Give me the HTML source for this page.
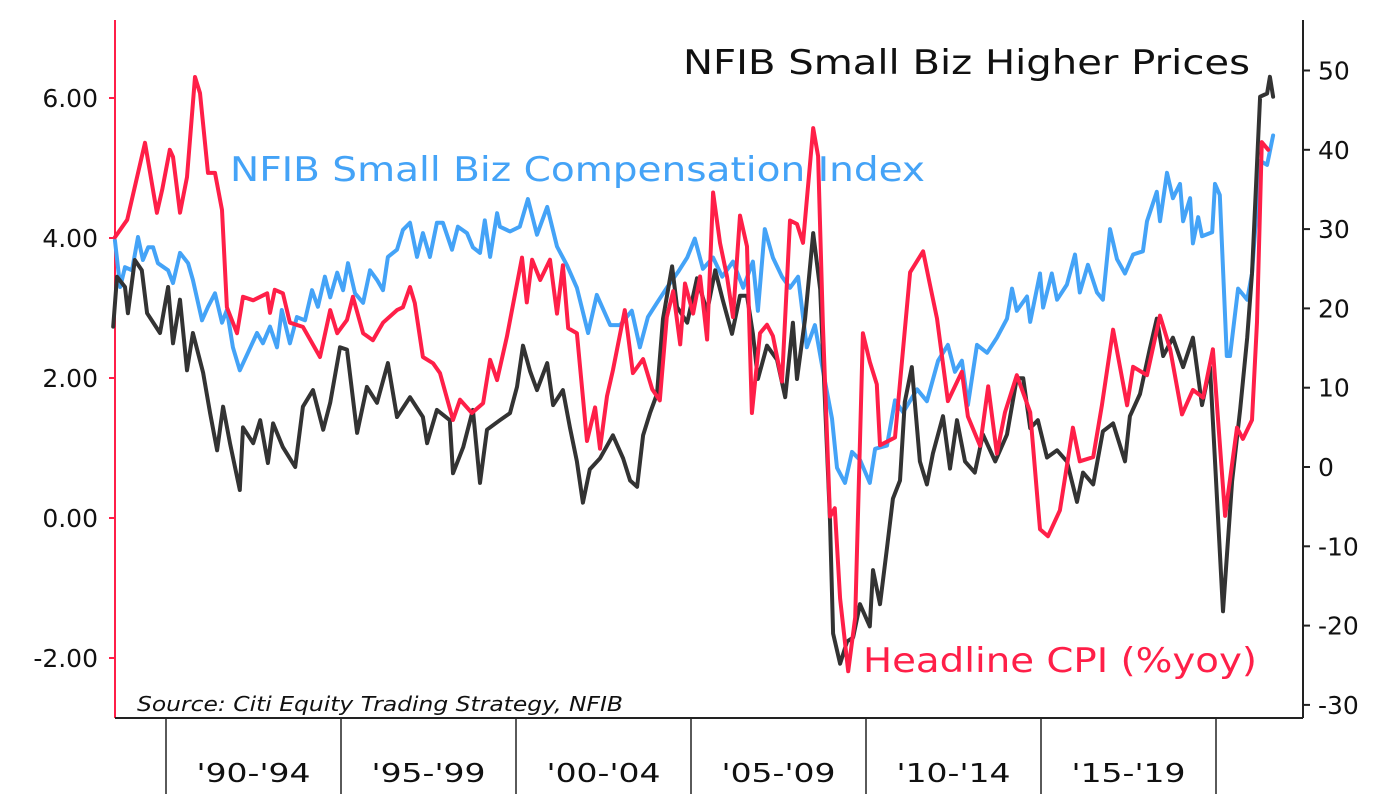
<!DOCTYPE html>
<html><head><meta charset="utf-8"><style>
html,body{margin:0;padding:0;background:#fff;}
svg{display:block;font-family:"DejaVu Sans","Liberation Sans",sans-serif;}
</style></head><body>
<svg id="chart" width="1378" height="794" viewBox="0 0 1378 794" xmlns="http://www.w3.org/2000/svg">
<rect width="1378" height="794" fill="#fff"/>
<g id="axes"></g>
<g id="series"></g>
<text x="683" y="74" font-size="34" fill="#111" textLength="567" lengthAdjust="spacingAndGlyphs">NFIB Small Biz Higher Prices</text>
<text x="230" y="181" font-size="34" fill="#44a3f7" textLength="695" lengthAdjust="spacingAndGlyphs">NFIB Small Biz Compensation Index</text>
<text x="863" y="672" font-size="34" fill="#ff1f48" textLength="394" lengthAdjust="spacingAndGlyphs">Headline CPI (%yoy)</text>
<text x="137" y="711" font-size="20" font-style="italic" fill="#111" textLength="486" lengthAdjust="spacingAndGlyphs">Source: Citi Equity Trading Strategy, NFIB</text>
</svg>
<script>
const cpiYears=[1988.54,1988.89,1989.40,1989.74,1989.89,1990.11,1990.20,1990.40,1990.60,1990.83,1990.97,1991.20,1991.40,1991.60,1991.74,1992.03,1992.20,1992.49,1992.89,1992.97,1993.11,1993.34,1993.54,1993.91,1994.40,1994.69,1994.89,1995.17,1995.34,1995.63,1995.91,1996.20,1996.60,1996.77,1996.97,1997.11,1997.34,1997.63,1997.83,1998.20,1998.40,1998.74,1999.06,1999.26,1999.46,1999.74,2000.17,2000.31,2000.46,2000.69,2000.97,2001.17,2001.34,2001.49,2001.74,2002.03,2002.26,2002.40,2002.60,2002.77,2003.11,2003.34,2003.63,2003.89,2004.11,2004.31,2004.49,2004.69,2004.83,2005.06,2005.26,2005.46,2005.63,2005.83,2006.03,2006.20,2006.40,2006.60,2006.74,2006.97,2007.17,2007.34,2007.60,2007.83,2008.03,2008.20,2008.49,2008.63,2008.77,2008.97,2009.11,2009.26,2009.49,2009.69,2009.91,2010.11,2010.31,2010.40,2010.83,2011.26,2011.63,2011.83,2012.03,2012.34,2012.74,2012.91,2013.26,2013.49,2013.74,2013.97,2014.31,2014.69,2014.97,2015.20,2015.54,2015.91,2016.11,2016.49,2016.74,2017.06,2017.46,2017.63,2018.03,2018.40,2018.69,2019.03,2019.34,2019.63,2019.91,2020.26,2020.60,2020.77,2021.03,2021.17,2021.31,2021.49];
const cpiValues=[4.01,4.26,5.36,4.36,4.69,5.26,5.16,4.36,4.87,6.30,6.07,4.93,4.93,4.40,3.01,2.64,3.16,3.11,3.21,2.93,3.26,3.21,2.79,2.73,2.30,2.97,2.64,2.83,3.16,2.64,2.54,2.79,2.97,3.01,3.30,3.07,2.30,2.21,2.07,1.40,1.69,1.50,1.64,2.26,1.97,2.59,3.72,3.08,3.69,3.40,3.69,2.92,3.61,2.71,2.64,1.10,1.58,0.99,1.74,2.11,2.97,2.07,2.27,1.84,1.68,2.87,3.24,2.48,3.35,2.92,3.45,2.55,4.65,3.93,3.45,2.87,4.32,3.88,1.50,2.64,2.76,2.60,1.95,4.25,4.20,3.93,5.57,5.17,2.76,0.02,0.14,-1.15,-2.19,-1.42,2.64,2.23,1.91,1.04,1.15,3.51,3.81,3.33,2.85,1.67,2.09,1.45,1.03,1.88,0.92,1.51,2.04,1.51,-0.16,-0.26,0.11,1.29,0.81,0.87,1.61,2.69,1.61,2.16,2.04,2.89,2.41,1.48,1.83,1.72,2.41,0.03,1.29,1.13,1.40,2.80,5.37,5.26];

const pricesYears=[1988.49,1988.60,1988.83,1988.91,1989.11,1989.31,1989.46,1989.83,1990.06,1990.20,1990.40,1990.60,1990.77,1991.06,1991.26,1991.46,1991.63,1991.83,1992.11,1992.20,1992.49,1992.69,1992.91,1993.06,1993.34,1993.69,1993.91,1994.20,1994.49,1994.69,1994.97,1995.17,1995.46,1995.74,1996.03,1996.34,1996.60,1996.97,1997.34,1997.46,1997.74,1998.11,1998.20,1998.49,1998.77,1998.97,1999.17,1999.54,1999.83,2000.03,2000.20,2000.40,2000.60,2000.89,2001.06,2001.34,2001.54,2001.74,2001.91,2002.11,2002.40,2002.77,2003.06,2003.26,2003.46,2003.63,2003.83,2004.03,2004.20,2004.46,2004.60,2004.89,2005.17,2005.46,2005.69,2005.91,2006.17,2006.40,2006.60,2006.77,2006.91,2007.17,2007.46,2007.69,2007.91,2008.03,2008.26,2008.49,2008.69,2008.83,2008.97,2009.06,2009.26,2009.46,2009.63,2009.83,2010.11,2010.20,2010.40,2010.60,2010.77,2010.97,2011.11,2011.31,2011.54,2011.74,2011.91,2012.20,2012.40,2012.60,2012.83,2013.11,2013.34,2013.69,2014.03,2014.31,2014.49,2014.69,2014.91,2015.17,2015.46,2015.74,2016.03,2016.20,2016.49,2016.77,2017.06,2017.40,2017.54,2017.83,2018.11,2018.31,2018.49,2018.77,2019.06,2019.34,2019.60,2019.83,2020.20,2020.46,2020.69,2020.89,2021.03,2021.26,2021.46,2021.54,2021.63];
const pricesValues=[17.7,24.0,22.7,19.4,26.1,24.8,19.4,16.9,22.7,15.6,21.1,12.2,16.9,11.9,6.8,2.1,7.6,3.0,-2.9,5.0,3.0,5.9,0.5,5.5,2.5,0.0,7.6,9.7,4.7,8.1,15.1,14.8,4.3,10.1,8.1,13.1,6.3,8.8,6.3,3.0,7.2,5.9,-0.8,2.5,7.2,-2.0,4.7,5.9,6.8,10.1,15.3,12.1,9.7,13.1,7.8,9.7,5.0,0.7,-4.5,-0.3,1.1,4.0,1.1,-1.7,-2.5,4.0,6.8,9.2,18.7,25.3,20.2,18.2,23.8,19.6,24.8,21.0,16.8,21.6,21.6,16.8,11.1,15.3,13.5,8.8,18.2,11.1,18.7,29.5,22.4,8.2,-6.8,-21.0,-24.8,-22.0,-21.5,-17.3,-20.1,-13.0,-17.3,-10.2,-4.0,-1.7,8.2,12.6,0.7,-2.2,1.7,6.4,-0.2,5.9,0.7,-0.7,4.1,0.7,4.1,11.2,11.2,4.9,5.9,1.2,2.1,0.7,-4.4,-0.7,-2.2,4.5,5.5,0.7,6.4,9.2,14.9,18.7,14.0,16.3,12.6,16.3,7.8,12.6,-18.2,-1.8,7.3,16.3,24.4,46.7,47.1,49.2,46.7];

const compYears=[1988.54,1988.69,1988.83,1989.03,1989.20,1989.34,1989.49,1989.63,1989.77,1990.06,1990.20,1990.40,1990.63,1990.77,1991.03,1991.20,1991.40,1991.60,1991.74,1991.91,1992.11,1992.34,1992.60,1992.77,1992.97,1993.17,1993.31,1993.54,1993.74,1993.97,1994.17,1994.34,1994.54,1994.69,1994.89,1995.06,1995.20,1995.40,1995.63,1995.83,1996.03,1996.20,1996.34,1996.60,1996.77,1996.97,1997.17,1997.34,1997.54,1997.74,1997.91,1998.17,1998.34,1998.60,1998.77,1998.97,1999.11,1999.26,1999.46,1999.54,1999.83,2000.11,2000.34,2000.60,2000.89,2001.17,2001.46,2001.74,2002.06,2002.31,2002.69,2002.97,2003.31,2003.54,2003.77,2004.03,2004.31,2004.63,2004.89,2005.11,2005.34,2005.63,2005.89,2006.20,2006.49,2006.77,2006.91,2007.11,2007.34,2007.60,2007.83,2008.06,2008.31,2008.54,2008.77,2009.03,2009.17,2009.40,2009.60,2009.83,2010.11,2010.26,2010.60,2010.83,2011.06,2011.46,2011.74,2012.06,2012.34,2012.54,2012.74,2012.91,2013.17,2013.46,2013.74,2014.03,2014.17,2014.31,2014.60,2014.69,2014.97,2015.06,2015.31,2015.46,2015.74,2015.97,2016.11,2016.34,2016.60,2016.77,2016.97,2017.17,2017.40,2017.63,2017.91,2018.03,2018.31,2018.40,2018.60,2018.77,2018.97,2019.06,2019.26,2019.34,2019.49,2019.60,2019.89,2019.97,2020.11,2020.31,2020.40,2020.63,2020.89,2021.03,2021.26,2021.46,2021.63];
const compValues=[28.6,22.7,25.2,24.8,29.0,26.1,27.7,27.7,25.7,24.8,23.2,27.0,25.7,23.6,18.5,20.2,21.9,18.2,19.8,15.1,12.2,14.4,16.9,15.6,17.7,15.1,19.8,15.6,18.9,18.5,22.3,20.2,24.0,21.4,24.5,22.3,25.7,21.9,20.7,24.8,23.6,22.3,26.5,27.4,29.9,30.8,26.5,29.5,26.5,30.8,30.8,27.4,30.3,29.5,27.7,27.0,31.1,26.5,32.0,30.3,29.7,30.3,33.8,29.3,32.8,27.8,25.4,22.6,16.9,21.7,17.9,17.9,19.7,15.1,18.9,20.7,22.6,24.6,26.4,28.8,25.0,26.4,24.0,25.9,22.6,25.9,19.7,30.0,26.4,24.0,22.6,24.0,15.1,17.9,12.2,6.1,-0.1,-2.0,1.9,0.9,-2.0,2.3,2.7,8.4,6.9,9.8,8.3,13.4,15.4,12.0,13.4,7.8,15.4,14.4,16.3,18.7,22.5,19.7,21.5,18.3,24.4,20.1,24.4,21.1,23.0,26.8,22.0,25.5,22.0,21.1,30.0,26.2,24.4,26.8,27.2,31.0,34.7,31.0,37.1,33.9,35.7,31.0,33.9,28.2,31.5,29.1,29.6,35.7,34.3,14.0,14.0,22.5,21.1,24.4,38.6,38.1,41.8];

const leftTicks=[6,4,2,0,-2];
const leftTickLabels=["6.00","4.00","2.00","0.00","-2.00"];
const rightTicks=[50,40,30,20,10,0,-10,-20,-30];
const categoryLabels=["'90-'94","'95-'99","'00-'04","'05-'09","'10-'14","'15-'19"];
const categoryStarts=[1990,1995,2000,2005,2010,2015,2020];

const NS="http://www.w3.org/2000/svg";
function xS(t){return 166+(t-1990)*35;}
function yL(v){return 518-70*v;}
function yR(v){return 467-7.93*v;}
function mk(tag,attrs,parent){const e=document.createElementNS(NS,tag);for(const k in attrs)e.setAttribute(k,attrs[k]);parent.appendChild(e);return e;}
const axes=document.getElementById('axes');
const series=document.getElementById('series');

let e=mk('line',{x1:115,y1:20,x2:115,y2:718,stroke:'#ff1f48','stroke-width':2},axes);


e=mk('line',{x1:1303,y1:20,x2:1303,y2:718,stroke:'#222','stroke-width':2},axes);


e=mk('line',{x1:115,y1:718,x2:1303,y2:718,stroke:'#222','stroke-width':2},axes);



leftTicks.forEach((v,i)=>{
  const y=yL(v);
  const t=mk('line',{x1:109,y1:y,x2:115,y2:y,stroke:'#ff1f48','stroke-width':2},axes);
  
  
  const l=mk('text',{x:98,y:y+9,'text-anchor':'end','font-size':25,fill:'#111'},axes);
  l.textContent=leftTickLabels[i];
  
  
});
rightTicks.forEach(v=>{
  const y=yR(v);
  const t=mk('line',{x1:1303,y1:y,x2:1310,y2:y,stroke:'#222','stroke-width':2},axes);
  
  
  const l=mk('text',{x:1318,y:y+9,'font-size':25,fill:'#111'},axes);
  l.textContent=String(v);
  
  
});
categoryStarts.forEach(t=>{
  const x=xS(t);
  const d=mk('line',{x1:x,y1:718,x2:x,y2:794,stroke:'#222','stroke-width':1.5},axes);
  
  
});
categoryLabels.forEach((c,i)=>{
  const x=(xS(categoryStarts[i])+xS(categoryStarts[i+1]))/2;
  const l=mk('text',{x:x,y:782,'text-anchor':'middle','font-size':26,fill:'#111',textLength:114,lengthAdjust:'spacingAndGlyphs'},axes);
  l.textContent=c;
  
  
});

function drawLine(years,vals,yf,color,name){
  let d='';
  years.forEach((t,i)=>{d+=(i?'L':'M')+xS(t).toFixed(1)+','+yf(vals[i]).toFixed(1);});
  const p=mk('path',{d:d,fill:'none',stroke:color,'stroke-width':4,'stroke-linejoin':'round','stroke-linecap':'round'},series);
  
  
}
drawLine(compYears,compValues,yR,'#44a3f7','compensation-index-line');
drawLine(pricesYears,pricesValues,yR,'#333333','higher-prices-line');
drawLine(cpiYears,cpiValues,yL,'#ff1f48','headline-cpi-line');
</script>
</body></html>
